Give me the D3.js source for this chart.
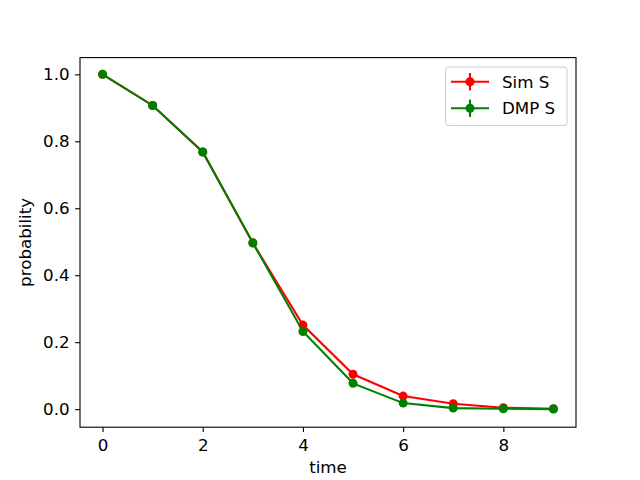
<!DOCTYPE html>
<html>
<head>
<meta charset="utf-8">
<script src="https://cdn.jsdelivr.net/npm/d3@7"></script>
<style>
  body { margin: 0; background: #fff; }
  text { font-family: "DejaVu Sans", sans-serif; }
</style>
</head>
<body>
<div id="chart"></div>
<script>
// chart data
const times = [0, 1, 2, 3, 4, 5, 6, 7, 8, 9];
const simS = [1.0, 0.907, 0.768, 0.496, 0.251, 0.104, 0.039, 0.016, 0.004, 0.001];
const simErr = [0, 0.004, 0.01, 0.01, 0.008, 0.006, 0.004, 0.002, 0.001, 0.001];
const dmpS = [1.0, 0.907, 0.768, 0.497, 0.232, 0.077, 0.018, 0.003, 0.001, 0.0];
const dmpErr = [0, 0.004, 0.012, 0.011, 0.009, 0.005, 0.003, 0.001, 0.001, 0.0];
const xTicks = [0, 2, 4, 6, 8];
const yTicks = [0.0, 0.2, 0.4, 0.6, 0.8, 1.0];

const series = [
    { name: "Sim S", color: "red", values: simS, err: simErr },
    { name: "DMP S", color: "green", values: dmpS, err: dmpErr }
];

const width = 640, height = 480;
const axLeft = 80, axRight = 576, axTop = 57.6, axBottom = 427.2;
const fontSize = 16.7;
const lw = 2.08;
const markerR = 4.5;

const svg = d3.select("#chart").append("svg")
    .attr("width", width)
    .attr("height", height);

const x = d3.scaleLinear().domain([-0.45, 9.45]).range([axLeft, axRight]);
const y = d3.scaleLinear().domain([-0.054, 1.05]).range([axBottom, axTop]);

// axes
const xAxis = svg.append("g")
    .attr("transform", `translate(0,${axBottom})`)
    .call(d3.axisBottom(x).tickValues(xTicks).tickFormat(d3.format("d")).tickSize(4.9).tickPadding(4.9));
const yAxis = svg.append("g")
    .attr("transform", `translate(${axLeft},0)`)
    .call(d3.axisLeft(y).tickValues(yTicks).tickFormat(d3.format(".1f")).tickSize(4.9).tickPadding(5.5));

[xAxis, yAxis].forEach(function (g) {
    g.select(".domain").remove();
    g.selectAll(".tick line").attr("stroke", "#000").attr("stroke-width", 1.1);
    g.selectAll(".tick text")
        .attr("font-family", "DejaVu Sans, sans-serif")
        .attr("font-size", fontSize)
        .attr("fill", "#000");
});
xAxis.selectAll(".tick text").attr("y", 23.8).attr("dy", null);

svg.append("text")
    .attr("x", (axLeft + axRight) / 2)
    .attr("y", 473)
    .attr("text-anchor", "middle")
    .attr("font-size", fontSize)
    .text("time");

svg.append("text")
    .attr("transform", `translate(31,${(axTop + axBottom) / 2})rotate(-90)`)
    .attr("text-anchor", "middle")
    .attr("font-size", fontSize)
    .text("probability");

// series
const line = d3.line()
    .x((d, i) => x(times[i]))
    .y(d => y(d));

series.forEach(function (s) {
    const g = svg.append("g");
    g.append("path")
        .datum(s.values)
        .attr("d", line)
        .attr("fill", "none")
        .attr("stroke", s.color)
        .attr("stroke-width", lw);
    g.selectAll("line.err")
        .data(s.values)
        .enter().append("line")
        .attr("class", "err")
        .attr("x1", (d, i) => x(times[i]))
        .attr("x2", (d, i) => x(times[i]))
        .attr("y1", (d, i) => y(d - s.err[i]))
        .attr("y2", (d, i) => y(d + s.err[i]))
        .attr("stroke", s.color)
        .attr("stroke-width", lw);
    g.selectAll("circle")
        .data(s.values)
        .enter().append("circle")
        .attr("cx", (d, i) => x(times[i]))
        .attr("cy", d => y(d))
        .attr("r", markerR)
        .attr("fill", s.color);
});

// frame
svg.append("rect")
    .attr("x", axLeft)
    .attr("y", axTop)
    .attr("width", axRight - axLeft)
    .attr("height", axBottom - axTop)
    .attr("fill", "none")
    .attr("stroke", "#000")
    .attr("stroke-width", 1.1);

// legend
const legend = svg.append("g");
legend.append("rect")
    .attr("x", 445.5)
    .attr("y", 67)
    .attr("width", 121.5)
    .attr("height", 58.5)
    .attr("rx", 3)
    .attr("fill", "#fff")
    .attr("fill-opacity", 0.8)
    .attr("stroke", "#ccc")
    .attr("stroke-width", 1);

series.forEach(function (s, i) {
    const cy = 81.7 + i * 26.6;
    const row = legend.append("g");
    row.append("line")
        .attr("x1", 451).attr("x2", 489)
        .attr("y1", cy).attr("y2", cy)
        .attr("stroke", s.color).attr("stroke-width", lw);
    row.append("line")
        .attr("x1", 470).attr("x2", 470)
        .attr("y1", cy - 8.7).attr("y2", cy + 8.7)
        .attr("stroke", s.color).attr("stroke-width", lw);
    row.append("circle")
        .attr("cx", 470).attr("cy", cy).attr("r", markerR)
        .attr("fill", s.color);
    row.append("text")
        .attr("x", 502)
        .attr("y", cy + 6)
        .attr("font-size", fontSize)
        .text(s.name);
});
</script>
</body>
</html>
